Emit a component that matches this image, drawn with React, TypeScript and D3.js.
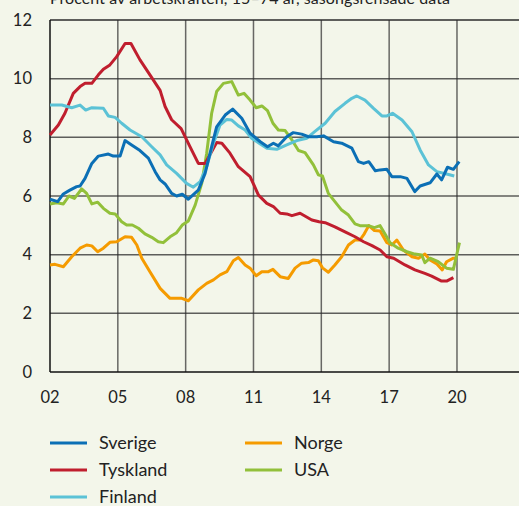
import React, { useEffect, useRef } from "react";
import * as d3 from "d3";

// Arbetslöshet, procent av arbetskraften, 15-74 år (säsongsrensad)
// points are [year as decimal, percent]
const sverige = [
  [2002.0, 5.89], [2002.34, 5.81], [2002.59, 6.07], [2002.88, 6.2], [2003.18, 6.32], [2003.33, 6.34],
  [2003.55, 6.6], [2003.85, 7.11], [2004.14, 7.36], [2004.58, 7.43], [2004.8, 7.36], [2005.1, 7.36],
  [2005.32, 7.89], [2005.61, 7.74], [2005.98, 7.55], [2006.35, 7.29], [2006.65, 6.83], [2006.87, 6.55],
  [2007.09, 6.41], [2007.38, 6.09], [2007.6, 6.0], [2007.85, 6.06], [2008.12, 5.89], [2008.56, 6.2],
  [2008.86, 6.77], [2009.15, 7.68], [2009.37, 8.36], [2009.75, 8.76], [2010.08, 8.96], [2010.48, 8.65],
  [2010.85, 8.14], [2011.3, 7.85], [2011.62, 7.68], [2011.88, 7.8], [2012.1, 7.71], [2012.47, 8.02],
  [2012.76, 8.16], [2013.13, 8.11], [2013.43, 8.02], [2013.8, 8.02], [2014.1, 8.05], [2014.54, 7.85],
  [2014.9, 7.8], [2015.35, 7.63], [2015.64, 7.17], [2015.87, 7.11], [2016.1, 7.17], [2016.39, 6.86],
  [2016.6, 6.89], [2016.9, 6.91], [2017.12, 6.66], [2017.49, 6.66], [2017.79, 6.6], [2018.13, 6.15],
  [2018.37, 6.34], [2018.81, 6.45], [2019.11, 6.75], [2019.32, 6.55], [2019.58, 6.98], [2019.84, 6.91],
  [2020.1, 7.17],
];

const tyskland = [
  [2002.0, 8.08], [2002.37, 8.42], [2002.66, 8.82], [2003.03, 9.5], [2003.33, 9.73], [2003.55, 9.84],
  [2003.85, 9.84], [2004.14, 10.13], [2004.36, 10.32], [2004.65, 10.47], [2004.95, 10.75], [2005.32, 11.2],
  [2005.58, 11.2], [2005.98, 10.64], [2006.42, 10.13], [2006.87, 9.6], [2007.09, 9.05], [2007.38, 8.6],
  [2007.8, 8.3], [2008.19, 7.68], [2008.56, 7.11], [2008.86, 7.11], [2009.37, 7.82], [2009.6, 7.8],
  [2009.96, 7.46], [2010.33, 7.0], [2010.85, 6.66], [2011.22, 6.03], [2011.59, 5.75], [2011.88, 5.64],
  [2012.18, 5.41], [2012.47, 5.39], [2012.7, 5.33], [2013.06, 5.41], [2013.58, 5.18], [2013.9, 5.12],
  [2014.17, 5.09], [2014.6, 4.95], [2015.05, 4.78], [2015.49, 4.61], [2015.87, 4.44], [2016.24, 4.31],
  [2016.6, 4.16], [2016.9, 3.93], [2017.2, 3.88], [2017.7, 3.65], [2018.14, 3.48], [2018.58, 3.36],
  [2018.88, 3.27], [2019.32, 3.1], [2019.54, 3.1], [2019.84, 3.22],
];

const finland = [
  [2002.0, 9.1], [2002.52, 9.1], [2002.96, 9.01], [2003.33, 9.1], [2003.58, 8.93], [2003.85, 9.01],
  [2004.36, 8.99], [2004.58, 8.73], [2004.88, 8.68], [2005.17, 8.48], [2005.54, 8.25], [2006.06, 8.02],
  [2006.5, 7.68], [2006.87, 7.4], [2007.16, 7.06], [2007.6, 6.77], [2008.04, 6.43], [2008.34, 6.3],
  [2008.64, 6.49], [2008.93, 7.0], [2009.23, 7.8], [2009.52, 8.42], [2009.82, 8.61], [2010.04, 8.59],
  [2010.33, 8.39], [2010.63, 8.25], [2010.92, 7.97], [2011.3, 7.77], [2011.59, 7.63], [2012.03, 7.59],
  [2012.47, 7.74], [2012.92, 7.89], [2013.36, 7.97], [2013.72, 8.2], [2014.17, 8.48], [2014.6, 8.88],
  [2015.05, 9.16], [2015.35, 9.33], [2015.57, 9.41], [2015.93, 9.27], [2016.31, 8.99], [2016.68, 8.73],
  [2016.9, 8.73], [2017.15, 8.82], [2017.57, 8.59], [2018.01, 8.19], [2018.37, 7.57], [2018.74, 7.06],
  [2019.11, 6.83], [2019.54, 6.75], [2019.88, 6.68],
];

const norge = [
  [2002.0, 3.65], [2002.22, 3.67], [2002.59, 3.59], [2002.96, 3.93], [2003.33, 4.22], [2003.62, 4.33],
  [2003.85, 4.3], [2004.11, 4.1], [2004.36, 4.22], [2004.65, 4.42], [2004.95, 4.44], [2005.32, 4.61],
  [2005.61, 4.59], [2005.84, 4.33], [2006.06, 3.88], [2006.42, 3.42], [2006.87, 2.85], [2007.31, 2.51],
  [2007.83, 2.51], [2008.12, 2.43], [2008.56, 2.8], [2008.93, 3.02], [2009.23, 3.14], [2009.52, 3.31],
  [2009.82, 3.42], [2010.11, 3.79], [2010.33, 3.9], [2010.63, 3.65], [2010.85, 3.54], [2011.12, 3.28],
  [2011.37, 3.42], [2011.66, 3.42], [2011.86, 3.5], [2012.18, 3.25], [2012.54, 3.19], [2012.84, 3.54],
  [2013.13, 3.71], [2013.43, 3.73], [2013.65, 3.82], [2013.87, 3.79], [2014.05, 3.55], [2014.31, 3.4],
  [2014.6, 3.65], [2014.9, 3.93], [2015.2, 4.33], [2015.49, 4.5], [2015.71, 4.5], [2015.9, 4.71],
  [2016.1, 4.99], [2016.35, 4.82], [2016.6, 4.81], [2016.9, 4.41], [2017.12, 4.33], [2017.34, 4.5],
  [2017.63, 4.16], [2018.01, 3.93], [2018.3, 3.88], [2018.58, 4.02], [2018.81, 3.82], [2019.11, 3.68],
  [2019.35, 3.48], [2019.54, 3.76], [2019.84, 3.88], [2019.99, 3.88],
];

const usa = [
  [2002.0, 5.73], [2002.3, 5.77], [2002.59, 5.73], [2002.84, 6.0], [2003.08, 5.92], [2003.4, 6.24],
  [2003.62, 6.09], [2003.85, 5.73], [2004.11, 5.79], [2004.36, 5.58], [2004.65, 5.41], [2004.88, 5.39],
  [2005.17, 5.12], [2005.39, 5.01], [2005.64, 5.01], [2005.91, 4.9], [2006.2, 4.71], [2006.5, 4.59],
  [2006.79, 4.44], [2007.01, 4.41], [2007.31, 4.61], [2007.6, 4.75], [2007.85, 5.01], [2008.12, 5.15],
  [2008.42, 5.69], [2008.71, 6.43], [2008.93, 7.46], [2009.15, 8.82], [2009.37, 9.56], [2009.67, 9.84],
  [2010.04, 9.9], [2010.33, 9.44], [2010.58, 9.5], [2010.85, 9.27], [2011.12, 9.01], [2011.37, 9.07],
  [2011.62, 8.91], [2011.86, 8.48], [2012.1, 8.25], [2012.4, 8.23], [2012.7, 7.91], [2012.99, 7.55],
  [2013.28, 7.48], [2013.65, 7.06], [2013.87, 6.72], [2014.05, 6.68], [2014.31, 6.09], [2014.6, 5.81],
  [2014.9, 5.52], [2015.2, 5.35], [2015.49, 5.05], [2015.71, 4.99], [2016.08, 4.99], [2016.35, 4.92],
  [2016.6, 4.99], [2016.81, 4.71], [2017.04, 4.41], [2017.4, 4.22], [2017.79, 4.1], [2018.14, 4.02],
  [2018.44, 3.99], [2018.58, 3.73], [2018.81, 3.88], [2019.17, 3.76], [2019.54, 3.54], [2019.84, 3.5],
  [2020.11, 4.41],
];

const yTicks = [0, 2, 4, 6, 8, 10, 12];
const xTicks = [2002, 2005, 2008, 2011, 2014, 2017, 2020];
const title = "Procent av arbetskraften, 15–74 år, säsongsrensade data";

const series = [
  { name: "Sverige", data: sverige, color: "#0b6fb5" },
  { name: "Tyskland", data: tyskland, color: "#c01e2e" },
  { name: "Finland", data: finland, color: "#5bc2d6" },
  { name: "Norge", data: norge, color: "#f59b00" },
  { name: "USA", data: usa, color: "#92c03a" },
];

// draw order in the chart (Norge and USA underneath)
const drawOrder = ["Norge", "USA", "Tyskland", "Finland", "Sverige"];

const W = 519, H = 506;
const FONT = "Lato, 'Open Sans', sans-serif";

export default function App() {
  const ref = useRef<SVGSVGElement>(null);

  useEffect(() => {
    const svg = d3.select(ref.current);
    svg.selectAll("*").remove();

    const left = 50, top = 20, bottom = 372;
    const x = d3.scaleLinear().domain([2002, 2023]).range([left, left + 21 * 22.61]);
    const y = d3.scaleLinear().domain([0, 12]).range([bottom, top]);

    svg.append("rect").attr("width", W).attr("height", H).attr("fill", "#f3f6ea");

    // title, cut at the top like in the original
    svg.append("text")
      .attr("x", 50)
      .attr("y", 4)
      .attr("font-family", FONT)
      .attr("font-size", 16)
      .attr("fill", "#222")
      .attr("textLength", 400)
      .text(title);

    const g = svg.append("g");

    // grid
    g.selectAll(".hgrid")
      .data(yTicks.filter(d => d > 0))
      .enter().append("line")
      .attr("x1", left).attr("x2", W)
      .attr("y1", d => y(d)).attr("y2", d => y(d))
      .attr("stroke", "#2b2b2b")
      .attr("stroke-opacity", d => (d === 12 ? 1 : 0.75))
      .attr("stroke-width", 1.5);

    g.selectAll(".vgrid")
      .data(xTicks.filter(d => d > 2002))
      .enter().append("line")
      .attr("x1", d => x(d)).attr("x2", d => x(d))
      .attr("y1", top).attr("y2", bottom)
      .attr("stroke", "#2b2b2b")
      .attr("stroke-opacity", 0.7)
      .attr("stroke-width", 1.5);

    // axes lines
    g.append("line").attr("x1", left).attr("x2", left).attr("y1", top).attr("y2", bottom)
      .attr("stroke", "#111").attr("stroke-width", 1.5);
    g.append("line").attr("x1", left).attr("x2", W).attr("y1", bottom).attr("y2", bottom)
      .attr("stroke", "#111").attr("stroke-width", 1.5);

    // tick labels
    svg.selectAll(".ylab")
      .data(yTicks)
      .enter().append("text")
      .attr("x", 32)
      .attr("y", d => y(d))
      .attr("dy", "0.35em")
      .attr("text-anchor", "end")
      .attr("font-family", FONT)
      .attr("font-size", 16.5)
      .attr("fill", "#222")
      .text(d => d);

    svg.selectAll(".xlab")
      .data(xTicks)
      .enter().append("text")
      .attr("x", d => x(d))
      .attr("y", 397)
      .attr("dy", "0.35em")
      .attr("text-anchor", "middle")
      .attr("font-family", FONT)
      .attr("font-size", 16.5)
      .attr("fill", "#222")
      .text(d => String(d).slice(2));

    // lines
    const line = d3.line<number[]>()
      .x(d => x(d[0]))
      .y(d => y(d[1]));

    drawOrder.forEach(n => {
      const s = series.find(s => s.name === n)!;
      g.append("path")
        .datum(s.data)
        .attr("d", line)
        .attr("fill", "none")
        .attr("stroke", s.color)
        .attr("stroke-width", 3)
        .attr("stroke-linejoin", "round");
    });

    // legend
    const legendPos = [
      { x: 50, y: 443 }, { x: 50, y: 470 }, { x: 50, y: 497 },
      { x: 245, y: 443 }, { x: 245, y: 470 },
    ];
    const lg = svg.append("g");
    series.forEach((s, i) => {
      const p = legendPos[i];
      lg.append("line")
        .attr("x1", p.x).attr("x2", p.x + 37)
        .attr("y1", p.y).attr("y2", p.y)
        .attr("stroke", s.color)
        .attr("stroke-width", 3);
      lg.append("text")
        .attr("x", p.x + 49)
        .attr("y", p.y)
        .attr("dy", "0.35em")
        .attr("font-family", FONT)
        .attr("font-size", 18)
        .attr("fill", "#222")
        .text(s.name);
    });
  }, []);

  return (
    <svg
      ref={ref}
      width={W}
      height={H}
      style={{ position: "absolute", left: 0, top: 0, display: "block" }}
    />
  );
}
